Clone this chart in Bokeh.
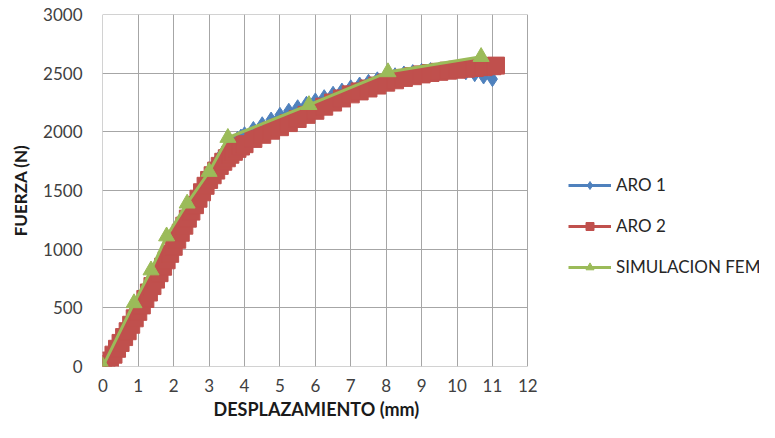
from bokeh.plotting import figure
from bokeh.models import Legend, LegendItem, Range1d, FixedTicker, Title
from bokeh.embed import file_html
from bokeh.resources import INLINE

# ---- data ----
aro1_x = [0.0, 0.1, 0.2, 0.3, 0.4, 0.5, 0.6, 0.7, 0.8, 0.9, 1.0, 1.1, 1.2, 1.3, 1.4, 1.5,
          1.6, 1.7, 1.8, 1.9, 2.0, 2.1, 2.2, 2.3, 2.4, 2.5, 2.6, 2.7, 2.8, 2.9, 3.0, 3.1,
          3.2, 3.3, 3.4, 3.5, 3.6, 3.7, 3.8, 3.9, 4.0, 4.25, 4.5, 4.75, 5.0, 5.25, 5.5,
          5.75, 6.0, 6.25, 6.5, 6.75, 7.0, 7.25, 7.5, 7.75, 8.0, 8.25, 8.5, 8.75, 9.0,
          9.25, 9.5, 9.75, 10.0, 10.25, 10.5, 10.75, 11.0]
aro1_y = [0, 30, 70, 120, 170, 220, 275, 330, 385, 440, 495, 550, 605, 660, 715, 770,
          825, 880, 935, 990, 1045, 1100, 1160, 1220, 1280, 1340, 1400, 1460, 1520, 1580, 1635, 1690,
          1740, 1785, 1825, 1860, 1890, 1915, 1940, 1960, 1980, 2025, 2065, 2105, 2145, 2180, 2210,
          2240, 2268, 2296, 2325, 2352, 2380, 2404, 2427, 2448, 2466, 2483, 2498, 2510, 2520,
          2527, 2531, 2529, 2522, 2508, 2492, 2472, 2450]

aro2_x = [0.0, 0.1, 0.2, 0.3, 0.4, 0.5, 0.6, 0.7, 0.8, 0.9, 1.0, 1.1, 1.2, 1.3, 1.4, 1.5,
          1.6, 1.7, 1.8, 1.9, 2.0, 2.1, 2.2, 2.3, 2.4, 2.5, 2.6, 2.7, 2.8, 2.9, 3.0, 3.1,
          3.2, 3.3, 3.4, 3.5, 3.6, 3.7, 3.8, 3.9, 4.0, 4.25, 4.5, 4.75, 5.0, 5.25, 5.5,
          5.75, 6.0, 6.25, 6.5, 6.75, 7.0, 7.25, 7.5, 7.75, 8.0, 8.25, 8.5, 8.75, 9.0,
          9.25, 9.5, 9.75, 10.0, 10.25, 10.5, 10.75, 11.0, 11.1]
aro2_y = [0, 20, 50, 100, 150, 200, 250, 300, 355, 410, 465, 520, 575, 630, 685, 740,
          795, 850, 905, 960, 1020, 1080, 1140, 1200, 1260, 1320, 1375, 1430, 1485, 1540, 1590, 1630,
          1670, 1710, 1745, 1775, 1805, 1830, 1855, 1875, 1895, 1940, 1975, 2010, 2040, 2075, 2110,
          2145, 2180, 2215, 2250, 2285, 2320, 2345, 2370, 2395, 2420, 2440, 2460, 2475, 2490,
          2502, 2512, 2522, 2530, 2538, 2545, 2552, 2560, 2565]

fem_x = [0.0, 0.88, 1.36, 1.8, 2.38, 3.0, 3.53, 5.82, 8.05, 10.68]
fem_y = [0, 540, 820, 1110, 1390, 1660, 1950, 2230, 2510, 2640]

x_ticks = list(range(0, 13))
y_ticks = [0, 500, 1000, 1500, 2000, 2500, 3000]

series_names = ["ARO 1", "ARO 2", "SIMULACION FEM"]
x_title = "DESPLAZAMIENTO  (mm)"
y_title = "FUERZA (N)"

BLUE = "#4F81BD"
RED = "#C0504D"
GREEN = "#9BBB59"
GRID = "#A6A6A6"
FONT = "Lato"

# layout: plot area 425 px wide for 0..12 mm; frame extends right to hold the legend
W, H = 759, 422
LEFT, RIGHT, TOP, BOTTOM = 102, 0, 14, 56
frame_w = W - LEFT - RIGHT
px_per_mm = 425 / 12.0
x0 = -0.01
x1 = x0 + frame_w / px_per_mm

p = figure(width=W, height=H, output_backend="svg", toolbar_location=None,
           x_range=Range1d(x0, x1), y_range=Range1d(-1, 3001),
           min_border_left=LEFT, min_border_right=RIGHT, min_border_top=TOP,
           min_border_bottom=BOTTOM)

p.outline_line_color = None
p.background_fill_color = "white"
p.border_fill_color = "white"

for g in (p.xgrid, p.ygrid):
    g.grid_line_color = GRID
    g.grid_line_width = 1
p.xgrid.ticker = FixedTicker(ticks=x_ticks)
p.ygrid.ticker = FixedTicker(ticks=y_ticks)
p.ygrid.cross_bounds = (x_ticks[0], x_ticks[-1])
p.xgrid.cross_bounds = (y_ticks[0], y_ticks[-1])
p.xaxis.ticker = FixedTicker(ticks=x_ticks)
p.yaxis.ticker = FixedTicker(ticks=y_ticks)
p.xaxis.bounds = (x_ticks[0], x_ticks[-1])
p.yaxis.bounds = (y_ticks[0], y_ticks[-1])

for ax in (p.xaxis, p.yaxis):
    ax.axis_line_color = None
    ax.major_tick_line_color = None
    ax.minor_tick_line_color = None
    ax.major_tick_out = 0
    ax.major_tick_in = 0
    ax.minor_tick_out = 0
    ax.minor_tick_in = 0
    ax.major_label_text_font = FONT
    ax.major_label_text_font_size = "17px"
    ax.major_label_text_color = "#404040"
    ax.axis_label_text_font = FONT
    ax.axis_label_text_font_style = "bold"
    ax.axis_label_text_font_size = "17px"
    ax.axis_label_text_color = "#1a1a1a"

p.yaxis.axis_label = y_title
p.xaxis.major_label_standoff = 12
p.yaxis.major_label_standoff = 20
p.yaxis.axis_label_standoff = 9

# x axis title, centred under the 0..12 plot area
xt = Title(text=x_title, align="left", offset=111, standoff=3,
           text_font=FONT, text_font_style="bold", text_font_size="18px",
           text_color="#1a1a1a")
p.add_layout(xt, "below")

l1 = p.line(aro1_x, aro1_y, line_color=BLUE, line_width=3)
s1 = p.scatter(aro1_x, aro1_y, marker="diamond", size=15, fill_color=BLUE, line_color=BLUE)
l2 = p.line(aro2_x, aro2_y, line_color=RED, line_width=3)
s2 = p.scatter(aro2_x, aro2_y, marker="square", size=17, fill_color=RED, line_color=RED)
l3 = p.line(fem_x, fem_y, line_color=GREEN, line_width=3)
s3 = p.scatter(fem_x, fem_y, marker="triangle", size=16, fill_color=GREEN, line_color=GREEN)

legend = Legend(items=[
    LegendItem(label=series_names[0], renderers=[l1, s1]),
    LegendItem(label=series_names[1], renderers=[l2, s2]),
    LegendItem(label=series_names[2], renderers=[l3, s3]),
], location=(466, 89))
legend.border_line_color = None
legend.background_fill_alpha = 0
legend.padding = 0
legend.margin = 0
legend.spacing = 20
legend.glyph_width = 43
legend.glyph_height = 20
legend.label_height = 20
legend.label_standoff = 5
legend.label_text_font = FONT
legend.label_text_font_size = "17px"
legend.label_text_color = "#262626"
p.add_layout(legend)

html = file_html(p, INLINE)
open("out.html", "w").write(html)
